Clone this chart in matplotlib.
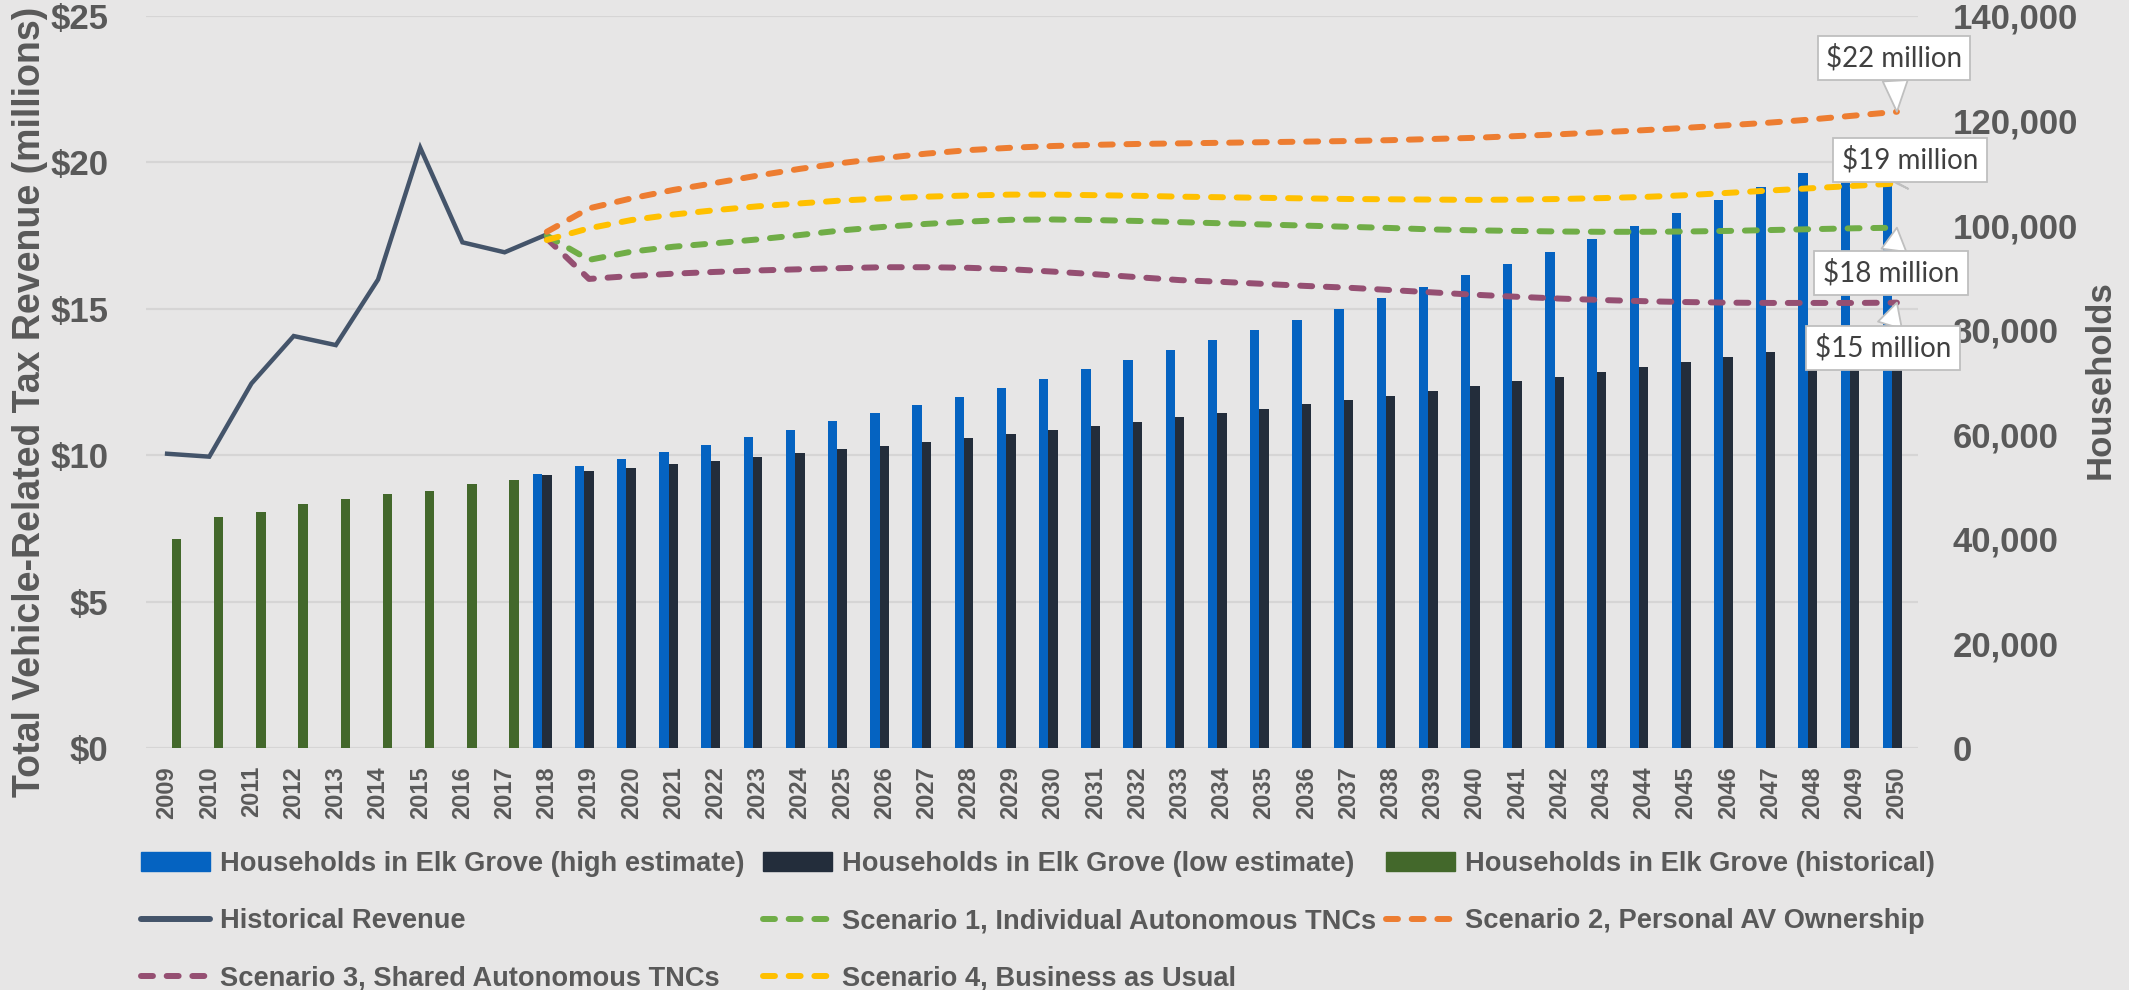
import numpy as np
import matplotlib.pyplot as plt
from matplotlib.patches import Patch
from matplotlib.lines import Line2D

plt.rcParams['font.family'] = ['Liberation Sans Narrow', 'Liberation Sans', 'DejaVu Sans']
plt.rcParams['font.weight'] = 'bold'

years = list(range(2009, 2051))

# households (right axis)
hist_households = [39900, 44200, 45200, 46650, 47550, 48600, 49150, 50400, 51250]  # 2009-2017
high_est = [52500, 53900, 55200, 56550, 57950, 59400, 60900, 62450, 64000, 65600, 67150,
            68900, 70600, 72400, 74150, 76050, 77950, 79850, 81850, 83950, 86050, 88150,
            90400, 92650, 94950, 97300, 99750, 102250, 104800, 107350, 110050, 112800, 115650]  # 2018-2050
low_est = [52200, 52900, 53550, 54250, 54850, 55650, 56350, 57100, 57850, 58550, 59250,
           60100, 60800, 61650, 62400, 63250, 64000, 64900, 65700, 66550, 67350, 68300,
           69150, 70100, 70950, 71850, 72800, 73750, 74700, 75650, 76600, 77550, 78500]

# revenue, $ millions (left axis)
hist_revenue = [10.05, 9.95, 12.45, 14.07, 13.76, 16.0, 20.5, 17.27, 16.93, 17.54]  # 2009-2018
scen1 = [17.5, 16.67, 16.95, 17.12, 17.24, 17.37, 17.52, 17.68, 17.8, 17.9, 17.98, 18.04, 18.05,
         18.03, 18.0, 17.96, 17.92, 17.88, 17.84, 17.8, 17.76, 17.71, 17.68, 17.66, 17.64, 17.63,
         17.63, 17.64, 17.66, 17.69, 17.72, 17.75, 17.77]  # 2018-2050
scen2 = [17.63, 18.43, 18.77, 19.06, 19.3, 19.55, 19.78, 19.98, 20.15, 20.3, 20.42, 20.5, 20.56,
         20.6, 20.63, 20.65, 20.67, 20.69, 20.71, 20.73, 20.76, 20.8, 20.84, 20.9, 20.96, 21.03,
         21.1, 21.18, 21.27, 21.36, 21.47, 21.6, 21.73]
scen3 = [17.4, 16.02, 16.12, 16.2, 16.26, 16.31, 16.35, 16.39, 16.42, 16.42, 16.4, 16.35, 16.27,
         16.18, 16.08, 15.98, 15.92, 15.85, 15.78, 15.72, 15.64, 15.56, 15.48, 15.41, 15.35, 15.3,
         15.26, 15.23, 15.21, 15.2, 15.2, 15.2, 15.21]
scen4 = [17.35, 17.75, 18.03, 18.22, 18.37, 18.5, 18.6, 18.7, 18.77, 18.83, 18.87, 18.9, 18.9,
         18.88, 18.86, 18.83, 18.81, 18.79, 18.77, 18.75, 18.74, 18.73, 18.72, 18.73, 18.75, 18.78,
         18.82, 18.88, 18.96, 19.04, 19.12, 19.2, 19.28]

callouts = ['$22 million', '$19 million', '$18 million', '$15 million']

BG = '#E7E6E6'
TXT = '#595959'
C_HIGH, C_LOW, C_HIST = '#0563C1', '#232D3B', '#43682B'
C_REV = '#44546A'
C_S1, C_S2, C_S3, C_S4 = '#70AD47', '#ED7D31', '#954F72', '#FFC000'

fig = plt.figure(figsize=(21.29, 9.9), dpi=100, facecolor=BG)
ax = fig.add_axes([146 / 2129, 1 - 748 / 990, (1918 - 146) / 2129, (748 - 16) / 990])
ax2 = ax.twinx()
ax.set_zorder(ax2.get_zorder() + 1)
ax.patch.set_visible(False)
ax2.patch.set_visible(False)

x = np.arange(len(years))
w = 0.223
xh = x[:len(hist_households)]
xp = x[len(hist_households):]

# gridlines behind bars (follow the left-axis $5 steps)
for g in np.linspace(0, 140000, 6):
    ax2.axhline(g, color='#D6D5D5', lw=1.6, zorder=0)

ax2.bar(xp - w, high_est, w, color=C_HIGH, zorder=2)
ax2.bar(xp, low_est, w, color=C_LOW, zorder=2)
ax2.bar(xh + w, hist_households, w, color=C_HIST, zorder=2)

xr = x[:len(hist_revenue)]
xs = x[len(hist_revenue) - 1:]
dash = dict(lw=4.3, dashes=(2.0, 2.3), dash_capstyle='round', solid_capstyle='round')
ax.plot(xr, hist_revenue, color=C_REV, lw=3.2, solid_joinstyle='miter')
ax.plot(xs, scen3, color=C_S3, **dash)
ax.plot(xs, scen1, color=C_S1, **dash)
ax.plot(xs, scen4, color=C_S4, **dash)
ax.plot(xs, scen2, color=C_S2, **dash)

ax.set_xlim(-0.5, len(years) - 0.5)
ax.set_ylim(0, 25)
ax2.set_ylim(0, 140000)
ax.set_yticks(np.arange(0, 26, 5))
ax.set_yticklabels(['$%d' % v for v in range(0, 26, 5)])
ax2.set_yticks(np.arange(0, 140001, 20000))
ax2.set_yticklabels(['{:,}'.format(v) for v in range(0, 140001, 20000)])
ax.set_xticks(x)
ax.set_xticklabels([str(y) for y in years], rotation=90)

for a in (ax, ax2):
    for s in a.spines.values():
        s.set_visible(False)
ax.tick_params(axis='x', length=0, pad=13, labelsize=17, labelcolor=TXT)
ax.tick_params(axis='y', length=0, pad=27, labelsize=25, labelcolor=TXT)
ax2.tick_params(axis='y', length=0, pad=25, labelsize=25, labelcolor=TXT)

fig.text(30 / 2129, 1 - 402 / 990, 'Total Vehicle-Related Tax Revenue (millions)', rotation=90,
         ha='center', va='center', fontsize=27, color=TXT)
fig.text(2100 / 2129, 1 - 380 / 990, 'Households', rotation=90,
         ha='center', va='center', fontsize=25, color=TXT)

# callouts at the 2050 end points
ends = [scen2[-1], scen4[-1], scen1[-1], scen3[-1]]
box_xy = [(1894, 990 - 58), (1910, 990 - 160), (1891, 990 - 273), (1883, 990 - 348)]
for lab, v, (bx, by) in zip(callouts, ends, box_xy):
    ax.annotate(lab, xy=(x[-1], v), xycoords='data', xytext=(bx, by), textcoords='figure pixels',
                ha='center', va='center', fontsize=20, color='#404040', annotation_clip=False,
                family=['Lato', 'DejaVu Sans'], fontweight='normal',
                bbox=dict(boxstyle='square,pad=0.3', fc='white', ec='#BFBFBF', lw=1.3),
                arrowprops=dict(arrowstyle='wedge,tail_width=0.9,shrink_factor=0.5',
                                fc='white', ec='#BFBFBF', lw=1.3, shrinkA=0, shrinkB=0),
                zorder=10)

# legend, three columns placed separately
def lline(c, solid=False):
    if solid:
        return Line2D([], [], color=c, lw=4.3, solid_capstyle='round')
    return Line2D([], [], color=c, **dash)

cols = [
    ([Patch(color=C_HIGH), lline(C_REV, True), lline(C_S3)],
     ['Households in Elk Grove (high estimate)', 'Historical Revenue', 'Scenario 3, Shared Autonomous TNCs'], 141),
    ([Patch(color=C_LOW), lline(C_S1), lline(C_S4)],
     ['Households in Elk Grove (low estimate)', 'Scenario 1, Individual Autonomous TNCs', 'Scenario 4, Business as Usual'], 763),
    ([Patch(color=C_HIST), lline(C_S2)],
     ['Households in Elk Grove (historical)', 'Scenario 2, Personal AV Ownership'], 1386),
]
for hs, ls, px in cols:
    leg = fig.legend(hs, ls, loc='upper left', bbox_to_anchor=(px / 2129, 1 - 851 / 990),
                     frameon=False, handlelength=2.55, handleheight=0.65,
                     handletextpad=0.35, labelspacing=1.15, borderpad=0, borderaxespad=0,
                     labelcolor=TXT, prop={'weight': 'bold', 'size': 19.6})

fig.savefig('out.png', dpi=100, facecolor=BG)
